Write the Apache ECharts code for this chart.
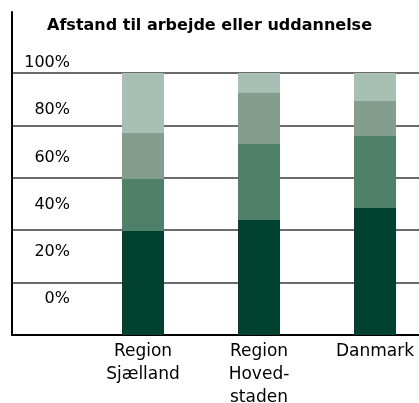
<!DOCTYPE html>
<html>
<head>
<meta charset="utf-8">
<script src="https://cdn.jsdelivr.net/npm/echarts@6/dist/echarts.min.js"></script>
<style>
html,body{margin:0;padding:0;background:#fff;}
#chart{width:419px;height:403px;}
</style>
</head>
<body>
<div id="chart"></div>
<script>
var categories = ['Region\nSjælland', 'Region\nHoved-\nstaden', 'Danmark'];
var seg1 = [39.7, 43.9, 48.5];
var seg2 = [19.8, 29.0, 27.5];
var seg3 = [17.6, 19.8, 13.3];
var seg4 = [22.9, 7.3, 10.7];
var tickLabels = ['0%', '20%', '40%', '60%', '80%', '100%'];
var colors = ['#00412F', '#4F8069', '#839E8F', '#A8BFB3'];

var chart = echarts.init(document.getElementById('chart'));
var font = 'DejaVu Sans';
function seg(data, i) {
  return {
    type: 'bar', stack: 's', data: data, barWidth: 42,
    xAxisIndex: 0, yAxisIndex: 0,
    itemStyle: { color: colors[i] }, silent: true
  };
}
chart.setOption({
  animation: false,
  title: {
    text: 'Afstand til arbejde eller uddannelse',
    left: 'center', top: 13,
    textStyle: { fontFamily: font, fontWeight: 'bold', fontSize: 16, color: '#000' }
  },
  grid: [
    { left: 85, right: -14, top: 73, bottom: 68, outerBoundsMode: 'none', containLabel: false },
    { left: 12, right: 0, top: 73, bottom: 68, outerBoundsMode: 'none', containLabel: false },
    { left: 78, right: 0, top: 63, bottom: 104, outerBoundsMode: 'none', containLabel: false },
    { left: 12, right: 0, top: 12, bottom: 68, outerBoundsMode: 'none', containLabel: false }
  ],
  xAxis: [
    { gridIndex: 0, type: 'category', data: categories,
      axisLine: { show: false }, axisTick: { show: false },
      axisLabel: { fontFamily: font, fontSize: 17, color: '#000', lineHeight: 23, margin: 5, interval: 0 } },
    { gridIndex: 1, type: 'value', min: 0, max: 1,
      axisLine: { show: true, onZero: false, lineStyle: { color: '#000', width: 2 } },
      axisTick: { show: false }, axisLabel: { show: false }, splitLine: { show: false } },
    { gridIndex: 2, type: 'value', show: false, min: 0, max: 1 },
    { gridIndex: 3, type: 'value', show: false, min: 0, max: 1 }
  ],
  yAxis: [
    { gridIndex: 0, type: 'value', min: 0, max: 100, show: false },
    { gridIndex: 1, type: 'value', min: 0, max: 100, interval: 20,
      axisLine: { show: false }, axisTick: { show: false }, axisLabel: { show: false },
      splitLine: { show: true, lineStyle: { color: '#3a3a3a', width: 1.5 } } },
    { gridIndex: 2, type: 'value', min: 0, max: 100, interval: 20,
      axisLine: { show: false }, axisTick: { show: false }, splitLine: { show: false },
      axisLabel: { fontFamily: font, fontSize: 16, color: '#000', margin: 8,
        formatter: function (v) { return tickLabels[Math.round(v / 20)]; } } },
    { gridIndex: 3, type: 'value', min: 0, max: 1,
      axisLine: { show: true, lineStyle: { color: '#000', width: 2 } },
      axisTick: { show: false }, axisLabel: { show: false }, splitLine: { show: false } }
  ],
  series: [seg(seg1, 0), seg(seg2, 1), seg(seg3, 2), seg(seg4, 3)]
});
</script>
</body>
</html>
